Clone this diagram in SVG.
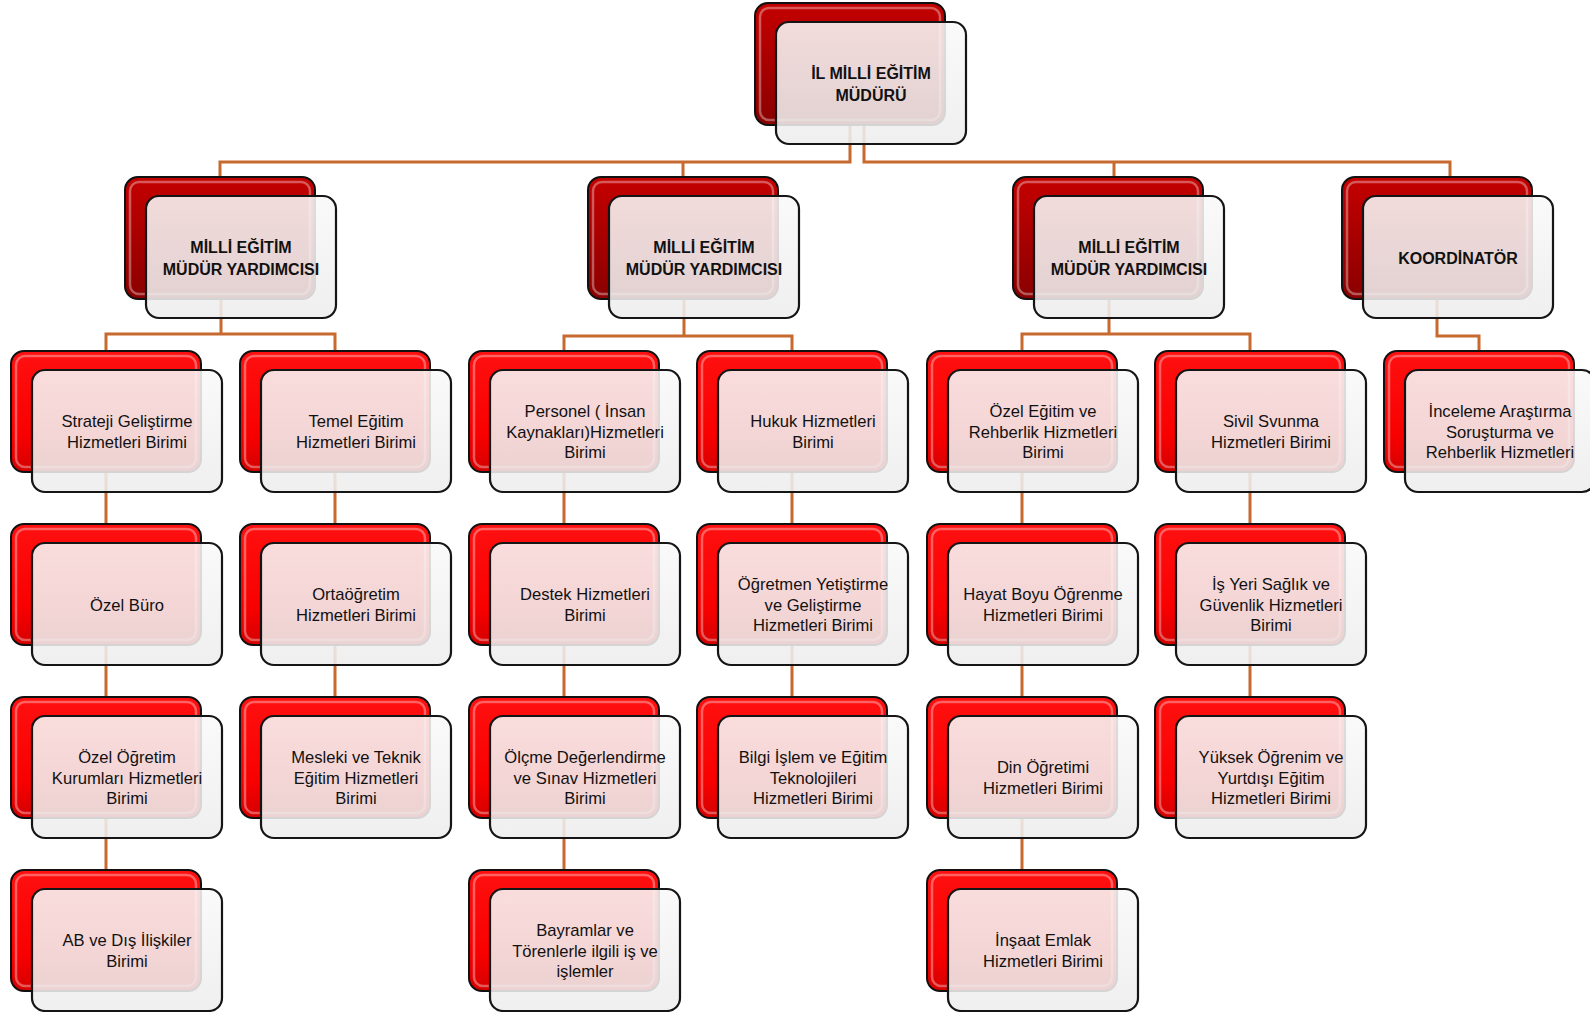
<svg xmlns="http://www.w3.org/2000/svg" width="1590" height="1012" viewBox="0 0 1590 1012">
<defs>
<linearGradient id="darkG" x1="0" y1="0" x2="0" y2="1"><stop offset="0" stop-color="#c40000"/><stop offset="0.5" stop-color="#a80000"/><stop offset="1" stop-color="#8a0000"/></linearGradient>
<linearGradient id="redG" x1="0" y1="0" x2="0" y2="1"><stop offset="0" stop-color="#ff1010"/><stop offset="0.7" stop-color="#f80000"/><stop offset="1" stop-color="#d40000"/></linearGradient>
<linearGradient id="frontG" x1="0" y1="0" x2="0" y2="1"><stop offset="0" stop-color="#f9f9f9"/><stop offset="1" stop-color="#ededed"/></linearGradient>
<style>
.bd{fill:url(#darkG);stroke:#111;stroke-width:2}
.br{fill:url(#redG);stroke:#111;stroke-width:2}
.hl{fill:none;stroke:#fff;stroke-opacity:0.35;stroke-width:2.5}
.fr{fill:url(#frontG);fill-opacity:0.88;stroke:#151515;stroke-width:2.2}
.t{font-family:"Liberation Sans",Arial,sans-serif;font-size:16.6px;fill:#111;text-anchor:middle}
.h{font-family:"Liberation Sans",Arial,sans-serif;font-size:16px;font-weight:bold;fill:#111;text-anchor:middle}
.c{fill:none;stroke:#c8692f;stroke-width:3}
</style>
</defs>
<rect width="1590" height="1012" fill="#fff"/>
<g id="connectors">
<path class="c" d="M850 125V162H220V177M850 162H683V177M864 125V162H1114V177M864 162H1450V177"/>
<path class="c" d="M221 297V334M106 351V334H335V351"/>
<path class="c" d="M684 297V336M564 351V336H792V351"/>
<path class="c" d="M1109 297V334M1022 351V334H1250V351"/>
<path class="c" d="M1437 297V336H1479V351"/>
<path class="c" d="M106 472V870M335 472V697M564 472V870M792 472V697M1022 472V870M1250 472V697"/>
</g>
<g id="n-mudur" transform="translate(755,3)"><rect class="bd" width="190" height="122" rx="13"/><rect class="hl" x="5" y="5" width="180" height="112" rx="9"/><rect class="fr" x="21" y="19" width="190" height="122" rx="13"/><text class="h"><tspan x="116" y="76">İL MİLLİ EĞİTİM</tspan><tspan x="116" y="98">MÜDÜRÜ</tspan></text></g>
<g id="n-my1" transform="translate(125,177)"><rect class="bd" width="190" height="122" rx="13"/><rect class="hl" x="5" y="5" width="180" height="112" rx="9"/><rect class="fr" x="21" y="19" width="190" height="122" rx="13"/><text class="h"><tspan x="116" y="76">MİLLİ EĞİTİM</tspan><tspan x="116" y="98">MÜDÜR YARDIMCISI</tspan></text></g>
<g id="n-my2" transform="translate(588,177)"><rect class="bd" width="190" height="122" rx="13"/><rect class="hl" x="5" y="5" width="180" height="112" rx="9"/><rect class="fr" x="21" y="19" width="190" height="122" rx="13"/><text class="h"><tspan x="116" y="76">MİLLİ EĞİTİM</tspan><tspan x="116" y="98">MÜDÜR YARDIMCISI</tspan></text></g>
<g id="n-my3" transform="translate(1013,177)"><rect class="bd" width="190" height="122" rx="13"/><rect class="hl" x="5" y="5" width="180" height="112" rx="9"/><rect class="fr" x="21" y="19" width="190" height="122" rx="13"/><text class="h"><tspan x="116" y="76">MİLLİ EĞİTİM</tspan><tspan x="116" y="98">MÜDÜR YARDIMCISI</tspan></text></g>
<g id="n-koord" transform="translate(1342,177)"><rect class="bd" width="190" height="122" rx="13"/><rect class="hl" x="5" y="5" width="180" height="112" rx="9"/><rect class="fr" x="21" y="19" width="190" height="122" rx="13"/><text class="h" x="116" y="87">KOORDİNATÖR</text></g>

<g id="n-strateji" transform="translate(11,351)"><rect class="br" width="190" height="121" rx="13"/><rect class="hl" x="5" y="5" width="180" height="111" rx="9"/><rect class="fr" x="21" y="19" width="190" height="122" rx="13"/><text class="t"><tspan x="116" y="76.2">Strateji Geliştirme</tspan><tspan x="116" y="96.7">Hizmetleri Birimi</tspan></text></g>
<g id="n-ozelburo" transform="translate(11,524)"><rect class="br" width="190" height="121" rx="13"/><rect class="hl" x="5" y="5" width="180" height="111" rx="9"/><rect class="fr" x="21" y="19" width="190" height="122" rx="13"/><text class="t" x="116" y="86.5">Özel Büro</text></g>
<g id="n-ozelogretim" transform="translate(11,697)"><rect class="br" width="190" height="121" rx="13"/><rect class="hl" x="5" y="5" width="180" height="111" rx="9"/><rect class="fr" x="21" y="19" width="190" height="122" rx="13"/><text class="t"><tspan x="116" y="66">Özel Öğretim</tspan><tspan x="116" y="86.5">Kurumları Hizmetleri</tspan><tspan x="116" y="107">Birimi</tspan></text></g>
<g id="n-ab" transform="translate(11,870)"><rect class="br" width="190" height="121" rx="13"/><rect class="hl" x="5" y="5" width="180" height="111" rx="9"/><rect class="fr" x="21" y="19" width="190" height="122" rx="13"/><text class="t"><tspan x="116" y="76.2">AB ve Dış İlişkiler</tspan><tspan x="116" y="96.7">Birimi</tspan></text></g>

<g id="n-temel" transform="translate(240,351)"><rect class="br" width="190" height="121" rx="13"/><rect class="hl" x="5" y="5" width="180" height="111" rx="9"/><rect class="fr" x="21" y="19" width="190" height="122" rx="13"/><text class="t"><tspan x="116" y="76.2">Temel Eğitim</tspan><tspan x="116" y="96.7">Hizmetleri Birimi</tspan></text></g>
<g id="n-ortaogretim" transform="translate(240,524)"><rect class="br" width="190" height="121" rx="13"/><rect class="hl" x="5" y="5" width="180" height="111" rx="9"/><rect class="fr" x="21" y="19" width="190" height="122" rx="13"/><text class="t"><tspan x="116" y="76.2">Ortaöğretim</tspan><tspan x="116" y="96.7">Hizmetleri Birimi</tspan></text></g>
<g id="n-mesleki" transform="translate(240,697)"><rect class="br" width="190" height="121" rx="13"/><rect class="hl" x="5" y="5" width="180" height="111" rx="9"/><rect class="fr" x="21" y="19" width="190" height="122" rx="13"/><text class="t"><tspan x="116" y="66">Mesleki ve Teknik</tspan><tspan x="116" y="86.5">Eğitim Hizmetleri</tspan><tspan x="116" y="107">Birimi</tspan></text></g>

<g id="n-personel" transform="translate(469,351)"><rect class="br" width="190" height="121" rx="13"/><rect class="hl" x="5" y="5" width="180" height="111" rx="9"/><rect class="fr" x="21" y="19" width="190" height="122" rx="13"/><text class="t"><tspan x="116" y="66">Personel ( İnsan</tspan><tspan x="116" y="86.5">Kaynakları)Hizmetleri</tspan><tspan x="116" y="107">Birimi</tspan></text></g>
<g id="n-destek" transform="translate(469,524)"><rect class="br" width="190" height="121" rx="13"/><rect class="hl" x="5" y="5" width="180" height="111" rx="9"/><rect class="fr" x="21" y="19" width="190" height="122" rx="13"/><text class="t"><tspan x="116" y="76.2">Destek Hizmetleri</tspan><tspan x="116" y="96.7">Birimi</tspan></text></g>
<g id="n-olcme" transform="translate(469,697)"><rect class="br" width="190" height="121" rx="13"/><rect class="hl" x="5" y="5" width="180" height="111" rx="9"/><rect class="fr" x="21" y="19" width="190" height="122" rx="13"/><text class="t"><tspan x="116" y="66">Ölçme Değerlendirme</tspan><tspan x="116" y="86.5">ve Sınav Hizmetleri</tspan><tspan x="116" y="107">Birimi</tspan></text></g>
<g id="n-bayram" transform="translate(469,870)"><rect class="br" width="190" height="121" rx="13"/><rect class="hl" x="5" y="5" width="180" height="111" rx="9"/><rect class="fr" x="21" y="19" width="190" height="122" rx="13"/><text class="t"><tspan x="116" y="66">Bayramlar ve</tspan><tspan x="116" y="86.5">Törenlerle ilgili iş ve</tspan><tspan x="116" y="107">işlemler</tspan></text></g>

<g id="n-hukuk" transform="translate(697,351)"><rect class="br" width="190" height="121" rx="13"/><rect class="hl" x="5" y="5" width="180" height="111" rx="9"/><rect class="fr" x="21" y="19" width="190" height="122" rx="13"/><text class="t"><tspan x="116" y="76.2">Hukuk Hizmetleri</tspan><tspan x="116" y="96.7">Birimi</tspan></text></g>
<g id="n-ogretmen" transform="translate(697,524)"><rect class="br" width="190" height="121" rx="13"/><rect class="hl" x="5" y="5" width="180" height="111" rx="9"/><rect class="fr" x="21" y="19" width="190" height="122" rx="13"/><text class="t"><tspan x="116" y="66">Öğretmen Yetiştirme</tspan><tspan x="116" y="86.5">ve Geliştirme</tspan><tspan x="116" y="107">Hizmetleri Birimi</tspan></text></g>
<g id="n-bilgi" transform="translate(697,697)"><rect class="br" width="190" height="121" rx="13"/><rect class="hl" x="5" y="5" width="180" height="111" rx="9"/><rect class="fr" x="21" y="19" width="190" height="122" rx="13"/><text class="t"><tspan x="116" y="66">Bilgi İşlem ve Eğitim</tspan><tspan x="116" y="86.5">Teknolojileri</tspan><tspan x="116" y="107">Hizmetleri Birimi</tspan></text></g>

<g id="n-ozelegitim" transform="translate(927,351)"><rect class="br" width="190" height="121" rx="13"/><rect class="hl" x="5" y="5" width="180" height="111" rx="9"/><rect class="fr" x="21" y="19" width="190" height="122" rx="13"/><text class="t"><tspan x="116" y="66">Özel Eğitim ve</tspan><tspan x="116" y="86.5">Rehberlik Hizmetleri</tspan><tspan x="116" y="107">Birimi</tspan></text></g>
<g id="n-hayatboyu" transform="translate(927,524)"><rect class="br" width="190" height="121" rx="13"/><rect class="hl" x="5" y="5" width="180" height="111" rx="9"/><rect class="fr" x="21" y="19" width="190" height="122" rx="13"/><text class="t"><tspan x="116" y="76.2">Hayat Boyu Öğrenme</tspan><tspan x="116" y="96.7">Hizmetleri Birimi</tspan></text></g>
<g id="n-din" transform="translate(927,697)"><rect class="br" width="190" height="121" rx="13"/><rect class="hl" x="5" y="5" width="180" height="111" rx="9"/><rect class="fr" x="21" y="19" width="190" height="122" rx="13"/><text class="t"><tspan x="116" y="76.2">Din Öğretimi</tspan><tspan x="116" y="96.7">Hizmetleri Birimi</tspan></text></g>
<g id="n-insaat" transform="translate(927,870)"><rect class="br" width="190" height="121" rx="13"/><rect class="hl" x="5" y="5" width="180" height="111" rx="9"/><rect class="fr" x="21" y="19" width="190" height="122" rx="13"/><text class="t"><tspan x="116" y="76.2">İnşaat Emlak</tspan><tspan x="116" y="96.7">Hizmetleri Birimi</tspan></text></g>

<g id="n-sivil" transform="translate(1155,351)"><rect class="br" width="190" height="121" rx="13"/><rect class="hl" x="5" y="5" width="180" height="111" rx="9"/><rect class="fr" x="21" y="19" width="190" height="122" rx="13"/><text class="t"><tspan x="116" y="76.2">Sivil Svunma</tspan><tspan x="116" y="96.7">Hizmetleri Birimi</tspan></text></g>
<g id="n-isyeri" transform="translate(1155,524)"><rect class="br" width="190" height="121" rx="13"/><rect class="hl" x="5" y="5" width="180" height="111" rx="9"/><rect class="fr" x="21" y="19" width="190" height="122" rx="13"/><text class="t"><tspan x="116" y="66">İş Yeri Sağlık ve</tspan><tspan x="116" y="86.5">Güvenlik Hizmetleri</tspan><tspan x="116" y="107">Birimi</tspan></text></g>
<g id="n-yuksek" transform="translate(1155,697)"><rect class="br" width="190" height="121" rx="13"/><rect class="hl" x="5" y="5" width="180" height="111" rx="9"/><rect class="fr" x="21" y="19" width="190" height="122" rx="13"/><text class="t"><tspan x="116" y="66">Yüksek Öğrenim ve</tspan><tspan x="116" y="86.5">Yurtdışı Eğitim</tspan><tspan x="116" y="107">Hizmetleri Birimi</tspan></text></g>

<g id="n-inceleme" transform="translate(1384,351)"><rect class="br" width="190" height="121" rx="13"/><rect class="hl" x="5" y="5" width="180" height="111" rx="9"/><rect class="fr" x="21" y="19" width="190" height="122" rx="13"/><text class="t"><tspan x="116" y="66">İnceleme Araştırma</tspan><tspan x="116" y="86.5">Soruşturma ve</tspan><tspan x="116" y="107">Rehberlik Hizmetleri</tspan></text></g>
</svg>
